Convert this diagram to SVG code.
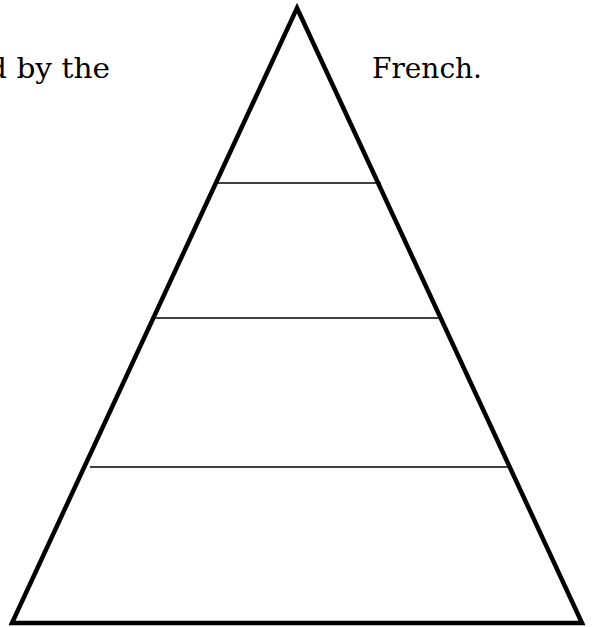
<svg xmlns="http://www.w3.org/2000/svg" width="592" height="627" viewBox="0 0 592 627">
<style>
.t{font-family:"DejaVu Serif","Liberation Serif",serif;font-size:28px;fill:#000}
.tri{fill:none;stroke:#000;stroke-width:4.5;stroke-linejoin:miter}
.div{stroke:#000;stroke-width:1.6}
</style>
<rect width="592" height="627" fill="#fff"/>
<g id="labels">
<text class="t" x="-12" y="78" textLength="122" lengthAdjust="spacingAndGlyphs">d by the</text>
<text class="t" x="372" y="78" textLength="110" lengthAdjust="spacingAndGlyphs">French.</text>
</g>
<g id="pyramid">
<polygon class="tri" points="297,8 582,623 12,623"/>
</g>
<g id="connectors">
<line class="div" x1="218" y1="183" x2="381" y2="183"/>
<line class="div" x1="155" y1="318" x2="440" y2="318"/>
<line class="div" x1="90" y1="467" x2="508" y2="467"/>
</g>
</svg>
